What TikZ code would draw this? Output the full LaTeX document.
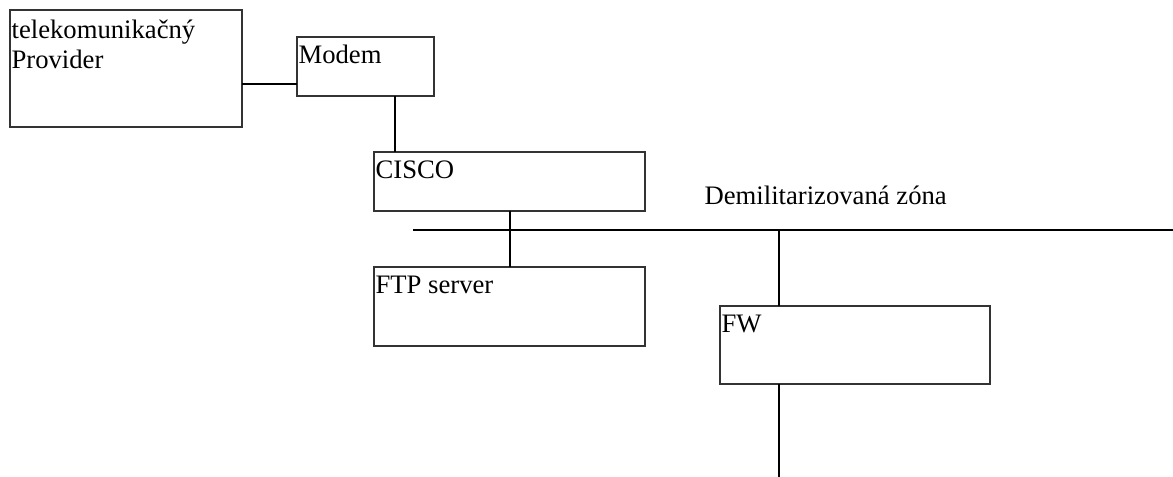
\documentclass[tikz,border=0pt]{standalone}
\usepackage{fontspec}
\setmainfont{Liberation Serif}
\usetikzlibrary{positioning,calc}

\begin{document}
\begin{tikzpicture}[x=0.75pt, y=-0.75pt,
  box/.style = {draw=black!80, line width=0.9pt, outer sep=0pt, inner sep=0pt, anchor=north west},
  txt/.style = {anchor=north west, inner xsep=1pt, inner ysep=0pt, text height=19.5pt, align=left,
                font=\fontsize{20}{22.5}\selectfont},
  wire/.style = {line width=1.5pt}]
\useasboundingbox (0,0) rectangle (1173,477);
            \node[box, minimum width=174pt, minimum height=87.75pt,
                  label={[txt, text height=43.5pt]north west:telekomunikačný\\Provider}] (prov) at (10,10) {};
            \node[box, minimum width=102.75pt, minimum height=44.25pt,
                  label={[txt]north west:Modem}] (mod) at (297,37) {};
            \node[box, minimum width=203.25pt, minimum height=44.25pt,
                  label={[txt]north west:CISCO}] (cis) at (374,152) {};
            \node[box, minimum width=203.25pt, minimum height=59.25pt,
                  label={[txt]north west:FTP server}, below=42pt of cis] (ftp) {};
            \node[box, minimum width=202.5pt, minimum height=58.5pt,
                  label={[txt]north west:FW}] (fw) at (720,306) {};
            \node[txt, anchor=base west] (dmz) at (703,205) {Demilitarizovaná zóna};
            % body of the dmz
            \coordinate (busL) at (413,230);
            \coordinate (busR) at (1173,230);
            \coordinate (m1) at ($(mod.north west)!0.8!(mod.south west)$);
            \coordinate (m2) at ($(mod.south west)!0.715!(mod.south east)$);
            \coordinate (f1) at ($(fw.north west)!0.2185!(fw.north east)$);
            \coordinate (lan) at (f1 |- 0,477);
            \draw[wire] (m1) -- (m1 -| prov.east);
            \draw[wire] (m2) -- (m2 |- cis.north);
            \draw[wire] (busL) -- (busR);
            \draw[wire] (cis.south) -- (ftp.north);
            \draw[wire] (f1 |- busL) -- (f1);
            \draw[wire] (f1 |- fw.south) -- (lan);
        \end{tikzpicture}
\end{document}
